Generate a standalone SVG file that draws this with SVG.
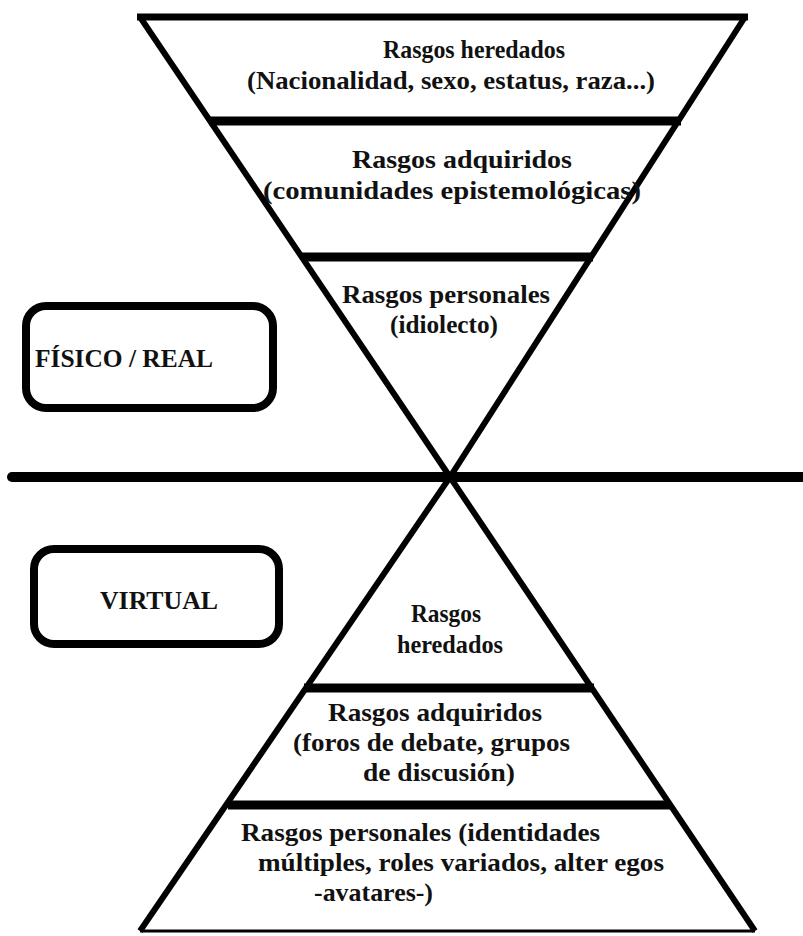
<svg xmlns="http://www.w3.org/2000/svg" width="803" height="936" viewBox="0 0 803 936">
<style>
  .t { font-family: "Liberation Serif", "Times New Roman", serif; font-weight: bold; font-size: 25px; fill: #111; }
  .edge { stroke: #000; fill: none; stroke-linecap: butt; }
  .box { fill: #fff; stroke: #000; stroke-width: 8; }
</style>
<rect width="803" height="936" fill="#fff"/>
<g id="connectors">
  <line class="edge" x1="12" y1="477" x2="803" y2="477" stroke-width="10" style="stroke-linecap:round"/>
  <polyline class="edge" points="140,17 450,477 745,17" stroke-width="6"/>
  <line class="edge" x1="137" y1="17" x2="748" y2="17" stroke-width="7"/>
  <line class="edge" x1="209" y1="121" x2="681" y2="121" stroke-width="9"/>
  <line class="edge" x1="302" y1="257" x2="593" y2="257" stroke-width="9"/>
  <polyline class="edge" points="140,931 450,477 755,931" stroke-width="6"/>
  <line class="edge" x1="140" y1="931" x2="755" y2="931" stroke-width="3"/>
  <line class="edge" x1="304" y1="688" x2="594" y2="688" stroke-width="9"/>
  <line class="edge" x1="228" y1="805" x2="670" y2="805" stroke-width="9"/>
</g>
<g id="upper-1">
  <text class="t" x="383" y="58" textLength="182" lengthAdjust="spacingAndGlyphs">Rasgos heredados</text>
  <text class="t" x="247" y="89" textLength="408" lengthAdjust="spacingAndGlyphs">(Nacionalidad, sexo, estatus, raza...)</text>
</g>
<g id="upper-2">
  <text class="t" x="352" y="168" textLength="220" lengthAdjust="spacingAndGlyphs">Rasgos adquiridos</text>
  <text class="t" x="263" y="199" textLength="378" lengthAdjust="spacingAndGlyphs">(comunidades epistemológicas)</text>
</g>
<g id="upper-3">
  <text class="t" x="342" y="303" textLength="208" lengthAdjust="spacingAndGlyphs">Rasgos personales</text>
  <text class="t" x="390" y="333" textLength="108" lengthAdjust="spacingAndGlyphs">(idiolecto)</text>
</g>
<g id="fisico">
  <rect class="box" x="26" y="306" width="247" height="102" rx="20"/>
  <text class="t" x="35" y="367" textLength="178" lengthAdjust="spacingAndGlyphs">FÍSICO / REAL</text>
</g>
<g id="virtual">
  <rect class="box" x="34" y="549" width="245" height="95" rx="20"/>
  <text class="t" x="100" y="609" textLength="118" lengthAdjust="spacingAndGlyphs">VIRTUAL</text>
</g>
<g id="lower-1">
  <text class="t" x="411" y="622" textLength="70" lengthAdjust="spacingAndGlyphs">Rasgos</text>
  <text class="t" x="397" y="653" textLength="106" lengthAdjust="spacingAndGlyphs">heredados</text>
</g>
<g id="lower-2">
  <text class="t" x="328" y="721" textLength="214" lengthAdjust="spacingAndGlyphs">Rasgos adquiridos</text>
  <text class="t" x="293" y="751" textLength="277" lengthAdjust="spacingAndGlyphs">(foros de debate, grupos</text>
  <text class="t" x="363" y="781" textLength="152" lengthAdjust="spacingAndGlyphs">de discusión)</text>
</g>
<g id="lower-3">
  <text class="t" x="241" y="841" textLength="359" lengthAdjust="spacingAndGlyphs">Rasgos personales (identidades</text>
  <text class="t" x="258" y="871" textLength="406" lengthAdjust="spacingAndGlyphs">múltiples, roles variados, alter egos</text>
  <text class="t" x="314" y="901" textLength="119" lengthAdjust="spacingAndGlyphs">-avatares-)</text>
</g>
</svg>
